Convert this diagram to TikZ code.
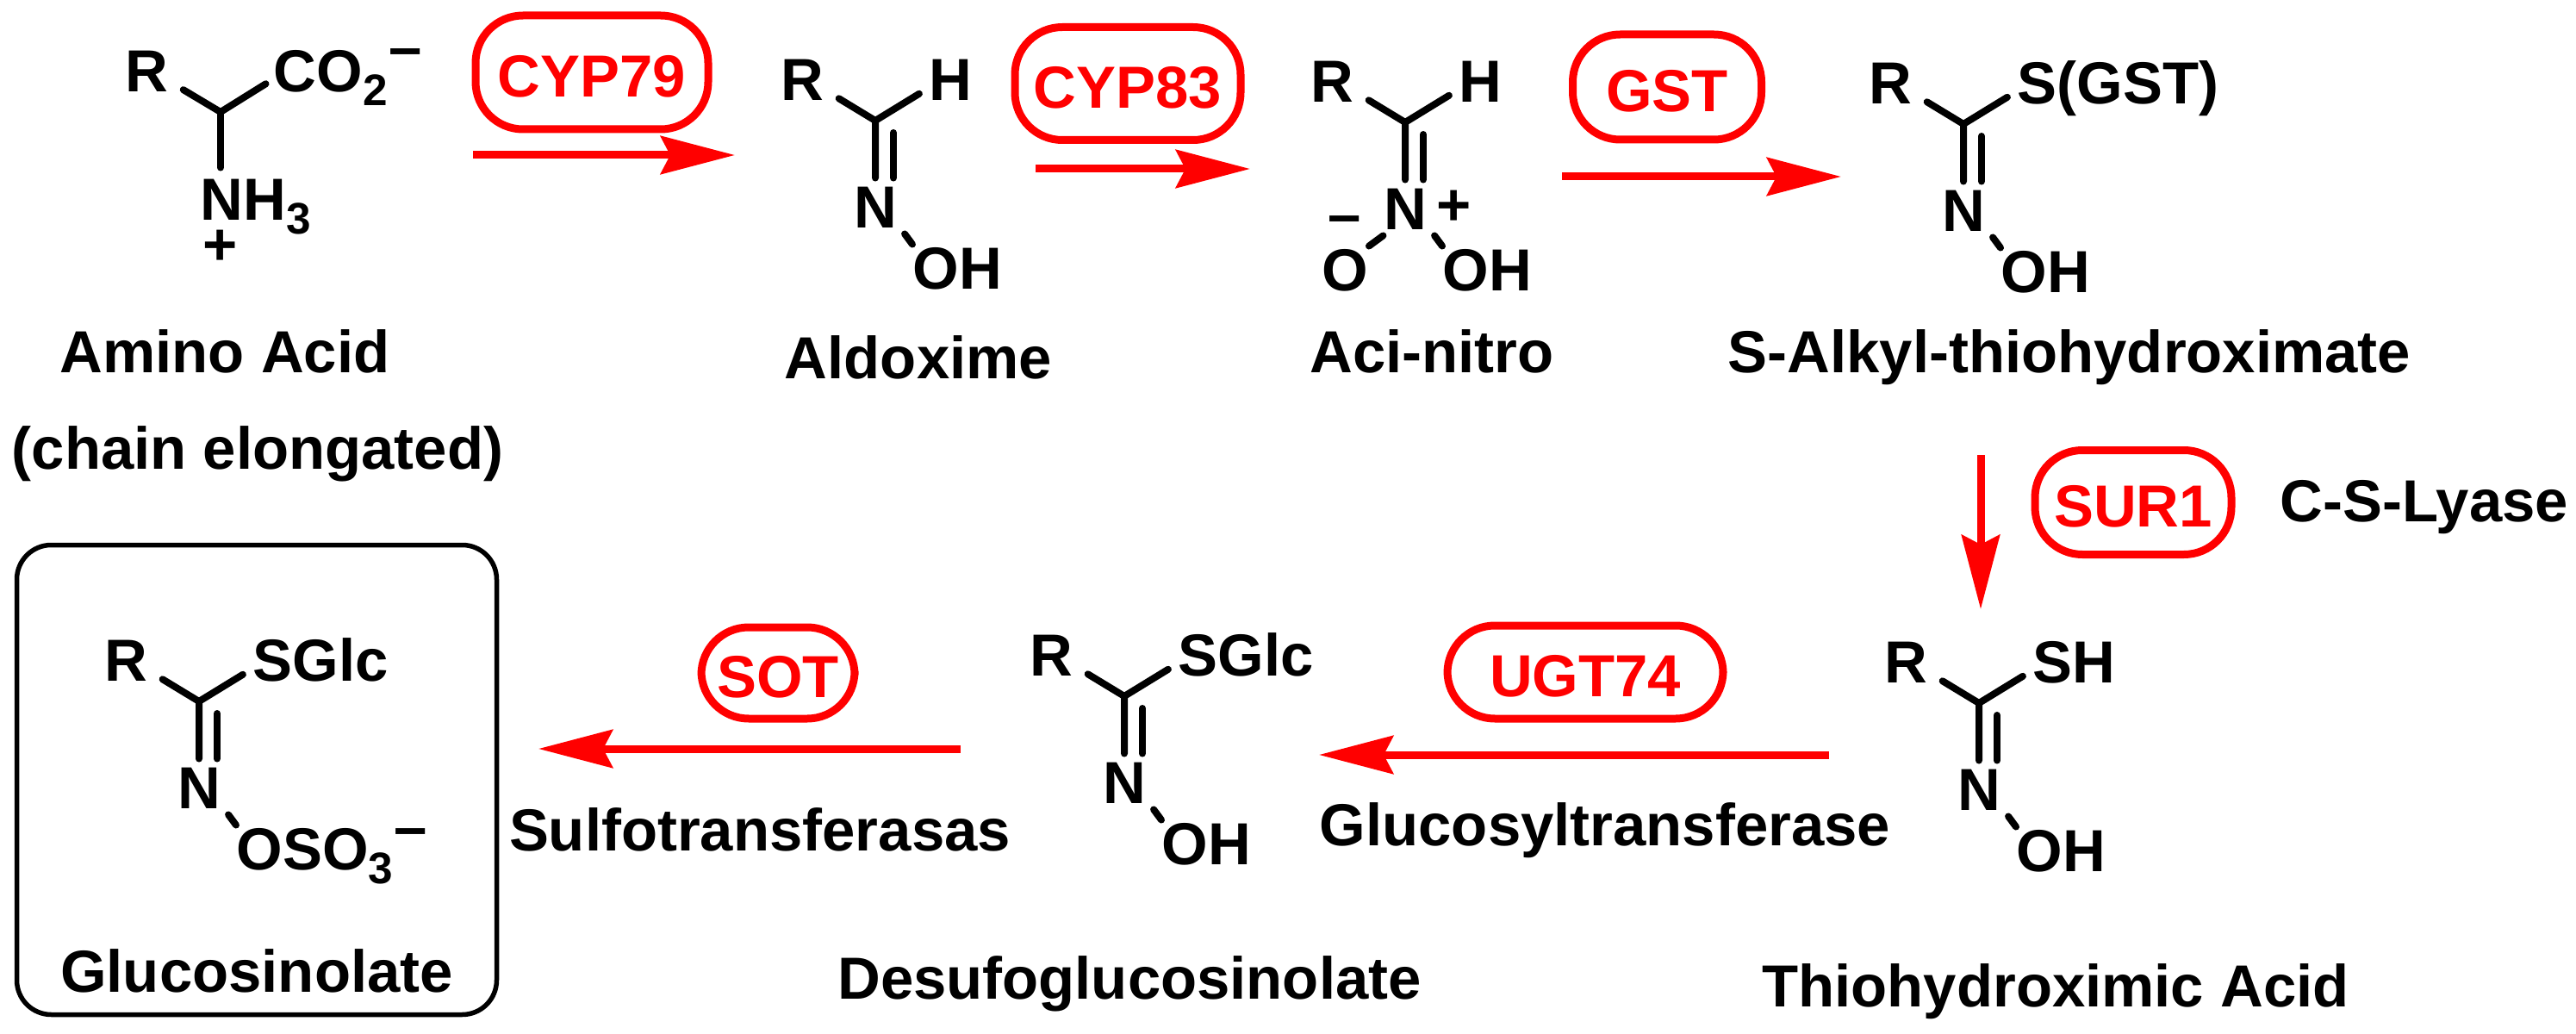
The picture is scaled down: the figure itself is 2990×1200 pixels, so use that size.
\documentclass[tikz,border=0pt]{standalone}
\usepackage{fontspec}
\setmainfont{Liberation Sans}
\usetikzlibrary{arrows.meta}

\newcommand{\sbs}[1]{\raisebox{-4.5pt}{\fontsize{14.6}{16}\selectfont #1}}

\tikzset{
  atom/.style={text height=4.95mm, text depth=0pt},
  cpdname/.style={anchor=base},
  bond/.style={line width=.8mm, line cap=round},
  enzyme/.style={text height=5.7mm, text depth=0pt, draw=red, text=red, line width=.9mm, rounded corners=5.5mm},
  reaction/.style={red, line width=.9mm, -{Stealth[length=8.6mm, width=4.4mm, inset=1.1mm]}}
}

\begin{document}
\begin{tikzpicture}[x=0.1mm, y=-0.1mm,
    every node/.style={inner sep=0pt, font=\fontsize{19.6}{24}\selectfont\bfseries}]
\useasboundingbox (0,0) rectangle (2990,1200);

%%%%%%%%%%%% Enzyme boxes and reaction arrows
\foreach \enz/\bx/\by/\bw/\bh/\xa/\ya/\xb/\yb in {
    CYP79/687/84/270/132/549/180/853/180,
    CYP83/1309/97/262/131/1202/196/1451/196,
    GST/1935/101/219/122/1813/205/2137/205,
    SUR1/2476/583/228/121/2299/528/2299/707,
    UGT74/1840/780/320/108/2123/876/1531/876,
    SOT/903/781/178/106/1115/869/625/869} {
  \node[enzyme, minimum width={\bw*0.1mm}, minimum height={\bh*0.1mm}] (\enz) at (\bx,\by) {\enz};
  \coordinate (from\enz) at (\xa,\ya);
  \coordinate (to\enz) at (\xb,\yb);
  \draw[reaction] (from\enz) -- (to\enz);
}

%%%%%%%%%%%% Oxime skeletons
\foreach \id/\cx/\cy/\sub/\oxy in {
    ald/1016/140/H/OH,
    aci/1631/142/H/OH,
    alk/2279/144/{S(GST)}/OH,
    thi/2297/816/SH/OH,
    des/1305/808/SGlc/OH,
    glc/231/814/SGlc/{OSO\sbs{3}}} {
  \coordinate (c\id) at (\cx,\cy);
  \node[atom] (r\id) at (\cx-85,\cy-48) {R};
  \node[atom] (n\id) at (\cx,\cy+100) {N};
  \node[atom, anchor=west] (s\id) at (\cx+62,\cy-48) {\sub};
  \node[atom, anchor=west] (o\id) at (\cx+43,\cy+171) {\oxy};
  \draw[bond, shorten <=2mm, shorten >=.8mm] (r\id.335) -- (c\id) -- (n\id);
  \draw[bond, shorten <=1.3mm] ([yshift=-1mm]s\id.west) -- (c\id);
  \draw[bond] ([shift={(2.1mm,-1.4mm)}]c\id) -- ([shift={(2.1mm,.8mm)}]n\id.north);
  \draw[bond] ([shift={(.85mm,-.6mm)}]n\id.south east) -- ([yshift=.2mm]o\id.north west);
}

%%%%%%%%%%%% Amino acid
\coordinate (caa) at (256,130);
\node[atom] (raa) at (170,82) {R};
\node[atom, anchor=west] (co) at (317,82) {CO\sbs{2}};
\node (coneg) at (471,68) {–};
\node[atom, anchor=west] (nh) at (232,231) {NH\sbs{3}};
\node (nhpos) at (256,287) {+};
\draw[bond, shorten <=2mm] (raa.335) -- (caa);
\draw[bond, shorten <=1mm] ([yshift=-1mm]co.west) -- (caa);
\draw[bond, shorten >=1.1mm] (caa) -- (caa |- nh.north);

%%%%%%%%%%%% Charges on the other molecules
\node[atom, anchor=west] (oneg) at (1534,313) {O};
\draw[bond] ([yshift=-.6mm]naci.south west) -- ([yshift=.2mm]oneg.north east);
\node (acineg) at (1561,262) {–};
\node (acipos) at (1688,241) {+};
\node (glcneg) at (477,973) {–};

%%%%%%%%%%%% Final product
\node[draw, line width=.55mm, rounded corners=4mm, minimum width=55.7mm, minimum height=54.5mm] (glcbox) at (298,905) {};

%%%%%%%%%%%% Names
\foreach \id/\x/\y/\txt in {
    aa/261/432/Amino Acid,
    chain/299/544/(chain elongated),
    ald/1066/440/Aldoxime,
    aci/1662/432/Aci-nitro,
    alk/2402/432/S-Alkyl-thiohydroximate,
    lya/2814/605/C-S-Lyase,
    thi/2386/1168/Thiohydroximic Acid,
    ugt/1863/981/Glucosyltransferase,
    des/1311/1159/Desufoglucosinolate,
    sot/882/987/Sulfotransferasas,
    glc/298/1151/Glucosinolate} {
  \node[cpdname] (name\id) at (\x,\y) {\txt};
}
\end{tikzpicture}
\end{document}
